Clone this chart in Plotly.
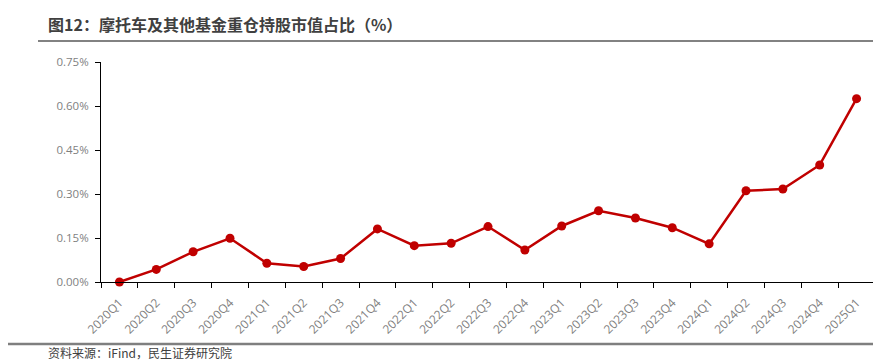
import plotly.graph_objects as go

categories = ["2020Q1", "2020Q2", "2020Q3", "2020Q4", "2021Q1", "2021Q2", "2021Q3", "2021Q4",
              "2022Q1", "2022Q2", "2022Q3", "2022Q4", "2023Q1", "2023Q2", "2023Q3", "2023Q4",
              "2024Q1", "2024Q2", "2024Q3", "2024Q4", "2025Q1"]
values = [0.000, 0.043, 0.103, 0.149, 0.064, 0.053, 0.080, 0.181,
          0.124, 0.132, 0.189, 0.109, 0.191, 0.243, 0.218, 0.185,
          0.130, 0.311, 0.317, 0.399, 0.625]
y_ticks = [0, 0.15, 0.30, 0.45, 0.60, 0.75]

title_text = "图12：摩托车及其他基金重仓持股市值占比（%）"
source_text = "资料来源：iFind，民生证券研究院"

OFF = 8  # page body margin
W, H = 881 - OFF, 360 - OFF
L, T = 101 - OFF, 62 - OFF
R = W - (875 - OFF)
B = H - (282 - OFF)
pw, ph = W - L - R, H - T - B

def px(x):
    # x in page pixels
    return (x - OFF - L) / pw

def py(y):
    # y in page pixels
    return (H - B - (y - OFF)) / ph

fig = go.Figure()
fig.add_trace(go.Scatter(
    x=categories, y=values, mode="lines+markers",
    line=dict(color="#C00000", width=2.5),
    marker=dict(color="#C00000", size=9),
    showlegend=False, cliponaxis=False,
))

fig.update_layout(
    width=W, height=H,
    margin=dict(l=L, r=R, t=T, b=B, pad=0, autoexpand=False),
    paper_bgcolor="white", plot_bgcolor="white",
    font=dict(family="Open Sans, Noto Sans CJK SC", size=11, color="#7f7f7f"),
    xaxis=dict(
        type="category", range=[-0.5, len(categories) - 0.5],
        showline=True, linecolor="#000000", linewidth=1,
        ticks="outside", tickson="boundaries", ticklen=5, tickcolor="#000000",
        tickangle=-45, showgrid=False, zeroline=False, automargin=False,
        ticklabelstandoff=8,
        tickfont=dict(size=12, color="#7f7f7f"),
    ),
    yaxis=dict(
        range=[0, 0.75], tickvals=y_ticks,
        ticktext=[f"{v:.2f}%" for v in y_ticks],
        showline=True, linecolor="#000000", linewidth=1,
        ticks="outside", ticklen=5, tickcolor="#000000",
        showgrid=False, zeroline=False, automargin=False,
        ticklabelstandoff=4,
        tickfont=dict(size=11.5, color="#7f7f7f"),
    ),
    shapes=[
        dict(type="line", xref="paper", yref="paper", x0=px(38), x1=px(881), y0=py(41), y1=py(41),
             line=dict(color="#595959", width=1.5)),
        dict(type="line", xref="paper", yref="paper", x0=px(OFF), x1=px(881), y0=py(344), y1=py(344),
             line=dict(color="#7f7f7f", width=2.5)),
    ],
    annotations=[
        dict(text="<b>" + title_text + "</b>", xref="paper", yref="paper", x=px(46), y=py(24),
             xanchor="left", yanchor="middle", showarrow=False,
             font=dict(family="Noto Sans CJK SC", size=16, color="#404040")),
        dict(text=source_text, xref="paper", yref="paper", x=px(46), y=py(352),
             xanchor="left", yanchor="middle", showarrow=False,
             font=dict(family="Noto Sans CJK SC", size=12, color="#404040")),
    ],
)

fig.write_html("out.html")
